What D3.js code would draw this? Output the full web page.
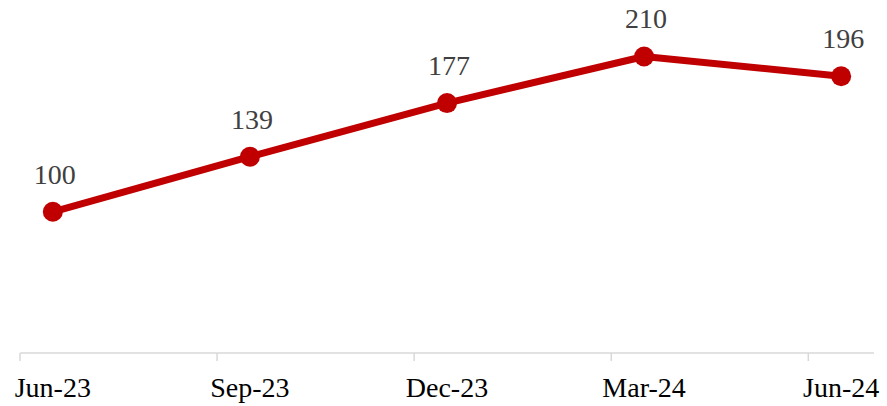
<!DOCTYPE html>
<html>
<head>
<meta charset="utf-8">
<script src="https://cdn.jsdelivr.net/npm/d3@7"></script>
<style>
	body { margin: 0; background: #fff; }
	svg { display: block; }
</style>
</head>
<body>
<svg width="887" height="406"></svg>
<script>
// quarter labels and index values
const labels = ["Jun-23", "Sep-23", "Dec-23", "Mar-24", "Jun-24"];
const monthOffsets = [0, 3, 6, 9, 12];
const values = [100, 139, 177, 210, 196];

const FONT = "'Times New Roman', 'Liberation Serif', 'DejaVu Serif', serif";
const svg = d3.select("svg").attr("font-family", FONT);
const axisY = 353;

// date axis: 13 monthly slots, points sit in the middle of their month
const x = d3.scaleLinear().domain([0, 13]).range([20, 874]);
const y = d3.scaleLinear().domain([0, 250]).range([axisY, 0]);

const data = labels.map((l, i) => ({ label: l, m: monthOffsets[i], v: values[i] }));

// axis
const axis = svg.append("g");
axis.append("line")
	.attr("x1", x(0)).attr("x2", x(13))
	.attr("y1", axisY).attr("y2", axisY)
	.attr("stroke", "#d9d9d9").attr("stroke-width", 1.5);
axis.selectAll(".tick").data(monthOffsets)
	.enter().append("line")
	.attr("x1", d => x(d)).attr("x2", d => x(d))
	.attr("y1", axisY).attr("y2", axisY + 8)
	.attr("stroke", "#d9d9d9").attr("stroke-width", 1.5);
axis.selectAll(".lab").data(data)
	.enter().append("text")
	.attr("x", d => x(d.m + 0.5))
	.attr("y", 397)
	.attr("text-anchor", "middle")
	.attr("font-family", FONT)
	.attr("font-size", 28)
	.attr("fill", "#000")
	.text(d => d.label);

const line = d3.line().x(d => x(d.m + 0.5)).y(d => y(d.v));

svg.append("path")
	.datum(data)
	.attr("d", line)
	.attr("fill", "none")
	.attr("stroke", "#c00000")
	.attr("stroke-width", 7)
	.attr("stroke-linejoin", "round");

svg.selectAll(".dot").data(data)
	.enter().append("circle")
	.attr("cx", d => x(d.m + 0.5))
	.attr("cy", d => y(d.v))
	.attr("r", 10)
	.attr("fill", "#c00000");

svg.selectAll(".val").data(data)
	.enter().append("text")
	.attr("x", d => x(d.m + 0.5) + 2)
	.attr("y", d => y(d.v) - 28)
	.attr("text-anchor", "middle")
	.attr("font-family", FONT)
	.attr("font-size", 28)
	.attr("fill", "#404040")
	.text(d => d.v);
</script>
</body>
</html>
